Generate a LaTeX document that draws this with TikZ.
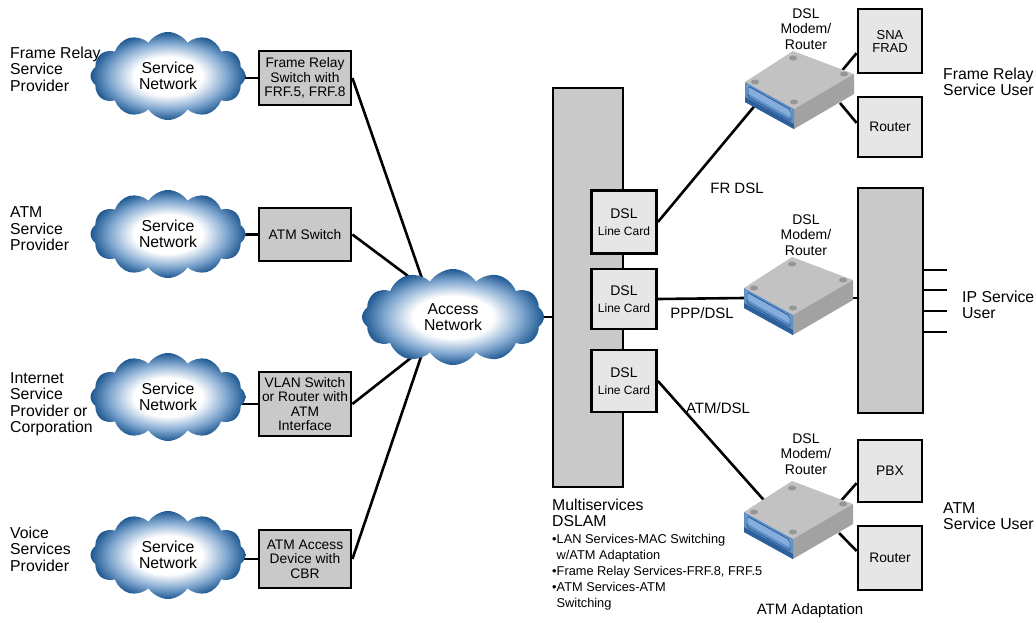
\documentclass[tikz,border=0pt]{standalone}
\usepackage{fontspec}
\setmainfont{Liberation Sans}
\usetikzlibrary{shapes.symbols,backgrounds}

\definecolor{boxgray}{HTML}{C9C9C9}
\definecolor{paleboxgray}{HTML}{E6E6E6}
\definecolor{cloudblue}{HTML}{1D5790}
\definecolor{cloudmid}{HTML}{7FA6CF}
\definecolor{modemtop}{HTML}{C2C2C2}
\definecolor{modemside}{HTML}{A2A2A2}
\definecolor{modemfoot}{HTML}{969696}
\definecolor{modemblue}{HTML}{5F8FC6}
\definecolor{modemlight}{HTML}{86AEDC}
\definecolor{modemdeep}{HTML}{2D5F9A}

\pgfdeclareradialshading{cloudshade}{\pgfpoint{0bp}{0bp}}{%
  color(0bp)=(white); color(11bp)=(white); color(19bp)=(cloudmid);
  color(25bp)=(cloudblue); color(50bp)=(cloudblue)}

\tikzset{
  wire/.style={line width=2.6pt},
  graybox/.style={draw, line width=2.8pt, fill=boxgray, inner sep=0pt,
    align=center, font=\fontsize{13.8}{14.5}\selectfont},
  palebox/.style={graybox, fill=paleboxgray},
  svccloud/.style={cloud, cloud puffs=12, cloud puff arc=115, cloud ignores aspect,
    shade, shading=cloudshade, minimum width=155pt, minimum height=88pt,
    inner sep=0pt, align=center, font=\fontsize{15.8}{16.5}\selectfont},
  lbl/.style={align=left, inner sep=0pt, font=\fontsize{15.8}{16.5}\selectfont},
  midlbl/.style={align=center, inner sep=0pt, font=\fontsize{14}{15.5}\selectfont},
  modem/.pic={
    % top, right and front faces of the box
    \fill[modemtop] (0,0) -- (48,-31) -- (109,-8) -- (49,27) -- cycle;
    \fill[modemside] (49,27) -- (109,-8) -- (109,12) -- (49,47) -- cycle;
    \fill[modemblue] (0,0) -- (49,27) -- (49,47) -- (0,20) -- cycle;
    \fill[modemlight] (2,3) -- (47,28) -- (47,36) -- (2,11) -- cycle;
    \fill[modemdeep] (0,15) -- (49,42) -- (49,47) -- (0,20) -- cycle;
    \draw[modemdeep, line width=0.9pt, rounded corners=2pt]
      (3,4) -- (46,28) -- (46,39) -- (3,15) -- cycle;
    \fill[modemdeep] (22,27) -- (38,36) -- (38,38.5) -- (22,29.5) -- cycle;
    % rubber feet on the lid
    \fill[modemfoot] (10,0) ellipse (4pt and 2.5pt);
    \fill[modemfoot] (48,-24) ellipse (4pt and 2.5pt);
    \fill[modemfoot] (99,-8) ellipse (4pt and 2.5pt);
    \fill[modemfoot] (49,20) ellipse (4pt and 2.5pt);
    % attachment points
    \coordinate (-w) at (0,10);
    \coordinate (-e) at (109,10);
    \coordinate (-fl) at (12,21);
    \coordinate (-n) at (26,-5);
    \coordinate (-ne) at (95,-9);
    \coordinate (-se) at (95,21);
  }
}

\begin{document}
\begin{tikzpicture}[x=1pt,y=-1pt]
\useasboundingbox (0,0) rectangle (1036,622);

% service provider clouds
\node[svccloud] (c1) at (168,76) {Service\\Network};
\node[svccloud] (c2) at (168,234) {Service\\Network};
\node[svccloud] (c3) at (168,397) {Service\\Network};
\node[svccloud] (c4) at (168,555) {Service\\Network};

% provider labels
\node[lbl, anchor=west] (lfr) at (10,69) {Frame Relay\\Service\\Provider};
\node[lbl, anchor=west] (latm) at (10,229) {ATM\\Service\\Provider};
\node[lbl, anchor=west] (lisp) at (10,404) {Internet\\Service\\Provider or\\Corporation};
\node[lbl, anchor=west] (lvoice) at (10,549) {Voice\\Services\\Provider};

% edge switches
\node[graybox, minimum width=92pt, minimum height=54pt] (frs) at (305,78)
  {Frame Relay\\Switch with\\FRF.5, FRF.8};
\node[graybox, minimum width=92pt, minimum height=53pt] (atms) at (305,234.5)
  {ATM Switch};
\node[graybox, minimum width=92pt, minimum height=64pt] (vlan) at (305,404)
  {VLAN Switch\\or Router with\\ATM\\Interface};
\node[graybox, minimum width=92pt, minimum height=58pt] (atmacc) at (305,559)
  {ATM Access\\Device with\\CBR};

% access network
\node[svccloud, minimum width=182pt, minimum height=96pt] (acc) at (453,317)
  {Access\\Network};
\coordinate (a1) at (426,290);
\coordinate (a2) at (420,285);
\coordinate (a3) at (421,350);
\coordinate (a4) at (425,345);

% DSLAM and its line cards
\node[draw, line width=2.4pt, fill=boxgray, minimum width=70pt, minimum height=399pt]
  (dslam) at (588,287.5) {};
\node[palebox, minimum width=65pt, minimum height=63pt] (lc1) at (624,222)
  {\fontsize{14}{15}\selectfont DSL\\[2pt]\fontsize{12}{13}\selectfont Line Card};
\node[palebox, minimum width=65pt, minimum height=60pt] (lc2) at (624,299)
  {\fontsize{14}{15}\selectfont DSL\\[2pt]\fontsize{12}{13}\selectfont Line Card};
\node[palebox, minimum width=65pt, minimum height=62pt] (lc3) at (624,381)
  {\fontsize{14}{15}\selectfont DSL\\[2pt]\fontsize{12}{13}\selectfont Line Card};

\node[lbl, anchor=west] (dslamlbl) at (552,513) {Multiservices\\DSLAM};
\node[align=left, inner sep=0pt, anchor=north west, font=\fontsize{12.8}{16}\selectfont]
  (svclist) at (552,534)
  {•LAN Services-MAC Switching\\
   \phantom{•}w/ATM Adaptation\\
   •Frame Relay Services-FRF.8, FRF.5\\
   •ATM Services-ATM\\
   \phantom{•}Switching};

% DSL modems
\pic (m1) at (745,82) {modem};
\pic (m2) at (744,288) {modem};
\pic (m3) at (744,512) {modem};
\node[midlbl] (m1lbl) at (806,29) {DSL\\Modem/\\Router};
\node[midlbl] (m2lbl) at (806,235) {DSL\\Modem/\\Router};
\node[midlbl] (m3lbl) at (806,454) {DSL\\Modem/\\Router};

% customer premises equipment
\node[palebox, minimum width=64pt, minimum height=64pt, font=\fontsize{13}{13}\selectfont]
  (sna) at (890,41) {SNA\\FRAD};
\node[palebox, minimum width=64pt, minimum height=60pt] (rt1) at (890,127) {Router};
\node[graybox, minimum width=65pt, minimum height=225pt] (ip) at (890.5,300.5) {};
\node[palebox, minimum width=64pt, minimum height=62pt] (pbx) at (890,471) {PBX};
\node[palebox, minimum width=64pt, minimum height=64pt] (rt3) at (890,558) {Router};
\coordinate (s1) at (947,270);
\coordinate (s2) at (947,290);
\coordinate (s3) at (947,311);
\coordinate (s4) at (947,332);

% user labels
\node[lbl, anchor=west] (fruser) at (943,82) {Frame Relay\\Service User};
\node[lbl, anchor=west] (ipuser) at (962,305) {IP Service\\User};
\node[lbl, anchor=west] (atmuser) at (943,516) {ATM\\Service User};

% link labels
\node[midlbl, font=\fontsize{15}{16}\selectfont] (frdsl) at (737,188) {FR DSL};
\node[midlbl, font=\fontsize{15}{16}\selectfont] (pppdsl) at (702,313) {PPP/DSL};
\node[midlbl, font=\fontsize{15}{16}\selectfont] (atmdsl) at (718,408) {ATM/DSL};
\node[midlbl, font=\fontsize{15}{16}\selectfont] (atmadapt) at (810,611) {ATM Adaptation};

% connectors
\begin{scope}[on background layer]
  \draw[wire] (c1.center |- frs.west) -- (frs.west);
  \draw[wire] (c2.center |- atms.west) -- (atms.west);
  \draw[wire] (c3.center |- vlan.west) -- (vlan.west);
  \draw[wire] (c4.center |- atmacc.west) -- (atmacc.west);
  \draw[wire] (frs.east) -- (a1);
  \draw[wire] (atms.east) -- (a2);
  \draw[wire] (vlan.east) -- (a3);
  \draw[wire] (atmacc.east) -- (a4);
  \draw[wire] (acc.center) -- (acc.center -| dslam.west);
  \draw[wire] (lc1.east) -- (m1-fl);
  \draw[wire] (lc2.east) -- (m2-w);
  \draw[wire] (lc3.east) -- (m3-n);
  \draw[wire] (m1-ne) -- (sna.-160);
  \draw[wire] (m1-se) -- (rt1.173);
  \draw[wire] (m2-e) -- (ip.west |- m2-e);
  \draw[wire] (m3-ne) -- (pbx.-160);
  \draw[wire] (m3-se) -- (rt3.168);
  \foreach \s in {s1,s2,s3,s4}
    \draw[wire] (ip.east |- \s) -- (\s);
\end{scope}
\end{tikzpicture}
\end{document}
